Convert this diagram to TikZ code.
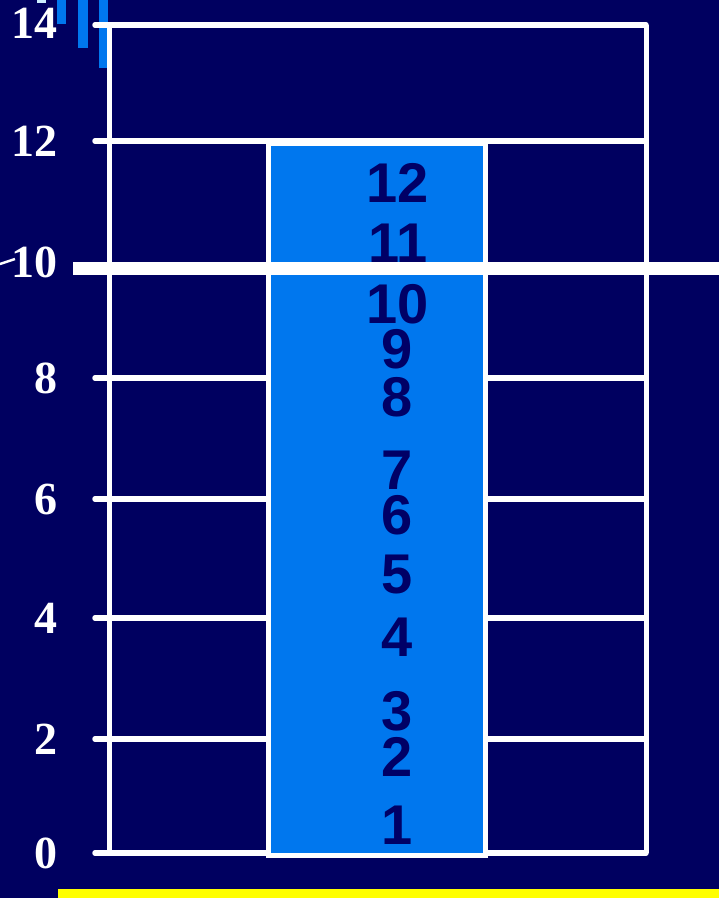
\documentclass[tikz,border=0pt]{standalone}
\usepackage{fontspec}
\newfontfamily\digfont{Liberation Sans}
\newfontfamily\axfont{Liberation Serif}
\definecolor{bg}{HTML}{000060}
\definecolor{barblue}{HTML}{0077EE}
\definecolor{dignavy}{HTML}{000066}
\definecolor{paleblue}{HTML}{CCEEFF}
\definecolor{markyellow}{HTML}{FFFF00}
\begin{document}
\begin{tikzpicture}[x=1pt,y=-1pt,
  gridline/.style={draw=white,line width=5.5pt,line cap=round},
  frameline/.style={draw=white,line width=5pt},
  thickline/.style={draw=white,line width=13pt},
  num/.style={font=\digfont\bfseries\fontsize{56}{56}\selectfont,text=dignavy,inner sep=0pt},
  axlab/.style={font=\axfont\bfseries\fontsize{46}{46}\selectfont,text=white,inner sep=0pt,anchor=east}]
\fill[bg] (0,0) rectangle (719,898);
\useasboundingbox (0,0) rectangle (719,898);
% decorative top-left bars
\fill[paleblue] (37,0) rectangle (46,3);
\fill[barblue] (57,0) rectangle (66,24);
\fill[barblue] (78,0) rectangle (88,48);
\fill[barblue] (99,0) rectangle (108,68);
% grid coordinates
\coordinate (l14) at (95,25);  \coordinate (r14) at (646,25);
\coordinate (l12) at (95,141); \coordinate (r12) at (646,141);
\coordinate (l8) at (95,378);  \coordinate (r8) at (646,378);
\coordinate (l6) at (95,499);  \coordinate (r6) at (646,499);
\coordinate (l4) at (95,618);  \coordinate (r4) at (646,618);
\coordinate (l2) at (95,739);  \coordinate (r2) at (646,739);
\coordinate (l0) at (95,853);  \coordinate (r0) at (646,853);
\coordinate (vlt) at (109,25); \coordinate (vlb) at (109,853);
\coordinate (vrt) at (646,25); \coordinate (vrb) at (646,853);
\coordinate (t10l) at (73,268); \coordinate (t10r) at (719,268);
\coordinate (dashA) at (0,264); \coordinate (dashB) at (15,259);
% horizontal grid lines
\foreach \k in {14,12,8,6,4,2,0} {\draw[gridline] (l\k) -- (r\k);}
% vertical frame
\draw[frameline] (vlt) -- (vlb);
\draw[frameline] (vrt) -- (vrb);
% blue bar
\node[draw=white,line width=5pt,fill=barblue,inner sep=0pt,minimum width=217pt,minimum height=712pt,anchor=north west] (bar) at (266,141) {};
% numbers in the bar
\node[num] (n12) at (398,183) {12};
\node[num] (n11) at (398,243) {11};
\node[num] (n10) at (398,304) {10};
\node[num] (n9) at (397,349) {9};
\node[num] (n8) at (397,397) {8};
\node[num] (n7) at (397,470) {7};
\node[num] (n6) at (397,515) {6};
\node[num] (n5) at (397,575) {5};
\node[num] (n4) at (397,637) {4};
\node[num] (n3) at (397,711) {3};
\node[num] (n2) at (397,757) {2};
\node[num] (n1) at (397,825) {1};
% thick line at 10
\draw[thickline] (t10l) -- (t10r);
% axis labels
\node[axlab] (a14) at (58,23) {14};
\node[axlab] (a12) at (58,141) {12};
\node[axlab] (a10) at (58,262) {10};
\node[axlab] (a8) at (58,378) {8};
\node[axlab] (a6) at (58,499) {6};
\node[axlab] (a4) at (58,618) {4};
\node[axlab] (a2) at (58,739) {2};
\node[axlab] (a0) at (58,853) {0};
\draw[white,line width=2.5pt] (dashA) -- (dashB);
% yellow strip
\fill[markyellow] (58,889) rectangle (719,898);
\end{tikzpicture}
\end{document}
